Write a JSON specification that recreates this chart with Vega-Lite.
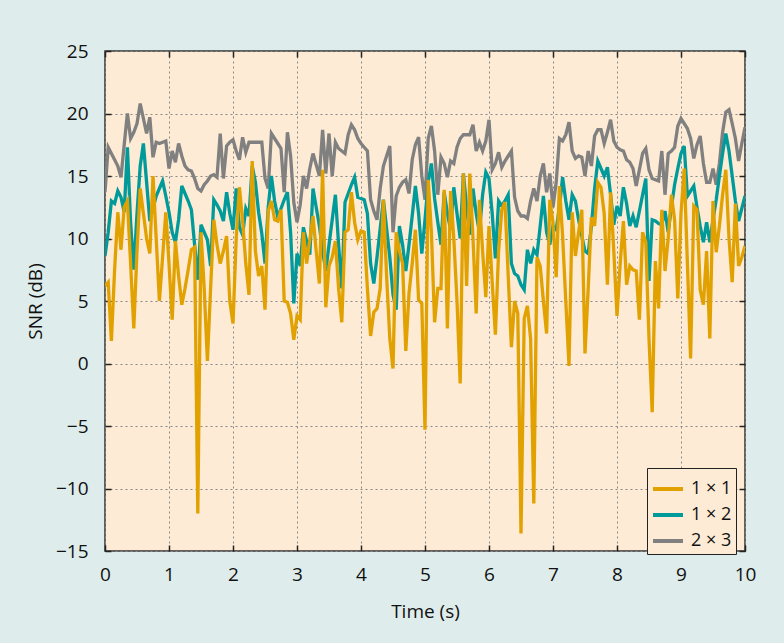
{
"$schema": "https://vega.github.io/schema/vega-lite/v6.json",
"width": 640, "height": 500,
"autosize": "none",
"padding": {"left": 105, "top": 51, "right": 39, "bottom": 92},
"background": "#deedeb",
"config": {
  "font": "Open Sans",
  "view": {"fill": "#fdebd5", "stroke": "#333333", "strokeWidth": 1.5},
  "axis": {"labelFontSize": 19, "labelColor": "#111111", "labelFlush": false, "labelOverlap": false, "titleFontSize": 19, "titleFontWeight": "normal", "titleColor": "#111111", "tickColor": "#222222", "tickWidth": 1.5, "tickSize": -6, "domain": false, "gridColor": "#888888", "gridDash": [2, 3], "gridWidth": 1, "gridOpacity": 1}
},
"data": {"values": [
{"t":0.00,"1 × 1":6.2,"1 × 2":8.6,"2 × 3":13.7},
{"t":0.05,"1 × 1":6.5,"1 × 2":10.5,"2 × 3":17.3},
{"t":0.10,"1 × 1":1.8,"1 × 2":13.0,"2 × 3":16.8},
{"t":0.15,"1 × 1":7.5,"1 × 2":12.8,"2 × 3":16.3},
{"t":0.20,"1 × 1":12.1,"1 × 2":13.8,"2 × 3":15.8},
{"t":0.25,"1 × 1":9.1,"1 × 2":13.3,"2 × 3":14.9},
{"t":0.30,"1 × 1":12.5,"1 × 2":12.1,"2 × 3":17.5},
{"t":0.35,"1 × 1":13.0,"1 × 2":17.3,"2 × 3":20.0},
{"t":0.40,"1 × 1":8.0,"1 × 2":11.3,"2 × 3":18.0},
{"t":0.45,"1 × 1":2.8,"1 × 2":7.5,"2 × 3":18.5},
{"t":0.50,"1 × 1":9.0,"1 × 2":12.0,"2 × 3":19.2},
{"t":0.55,"1 × 1":14.0,"1 × 2":15.8,"2 × 3":20.8},
{"t":0.60,"1 × 1":12.0,"1 × 2":17.6,"2 × 3":19.6},
{"t":0.65,"1 × 1":10.0,"1 × 2":14.5,"2 × 3":18.4},
{"t":0.70,"1 × 1":8.8,"1 × 2":11.4,"2 × 3":19.7},
{"t":0.75,"1 × 1":15.0,"1 × 2":12.4,"2 × 3":16.5},
{"t":0.80,"1 × 1":10.0,"1 × 2":13.4,"2 × 3":17.7},
{"t":0.85,"1 × 1":5.0,"1 × 2":14.0,"2 × 3":17.6},
{"t":0.90,"1 × 1":8.5,"1 × 2":14.6,"2 × 3":17.7},
{"t":0.95,"1 × 1":12.1,"1 × 2":13.4,"2 × 3":17.8},
{"t":1.00,"1 × 1":8.0,"1 × 2":12.1,"2 × 3":15.6},
{"t":1.05,"1 × 1":3.5,"1 × 2":10.5,"2 × 3":17.0},
{"t":1.10,"1 × 1":9.8,"1 × 2":9.7,"2 × 3":16.1},
{"t":1.15,"1 × 1":7.0,"1 × 2":11.5,"2 × 3":17.6},
{"t":1.20,"1 × 1":4.7,"1 × 2":14.2,"2 × 3":16.6},
{"t":1.25,"1 × 1":6.0,"1 × 2":13.6,"2 × 3":15.8},
{"t":1.30,"1 × 1":7.5,"1 × 2":13.0,"2 × 3":15.5},
{"t":1.35,"1 × 1":9.1,"1 × 2":12.3,"2 × 3":15.4},
{"t":1.40,"1 × 1":9.3,"1 × 2":9.5,"2 × 3":14.8},
{"t":1.45,"1 × 1":-12.0,"1 × 2":6.7,"2 × 3":14.0},
{"t":1.50,"1 × 1":10.5,"1 × 2":11.1,"2 × 3":13.8},
{"t":1.55,"1 × 1":6.0,"1 × 2":10.5,"2 × 3":14.3},
{"t":1.60,"1 × 1":0.2,"1 × 2":9.9,"2 × 3":14.6},
{"t":1.65,"1 × 1":6.0,"1 × 2":7.8,"2 × 3":15.0},
{"t":1.70,"1 × 1":11.5,"1 × 2":13.1,"2 × 3":15.1},
{"t":1.75,"1 × 1":9.5,"1 × 2":12.7,"2 × 3":14.9},
{"t":1.80,"1 × 1":8.0,"1 × 2":12.2,"2 × 3":18.4},
{"t":1.85,"1 × 1":9.0,"1 × 2":11.4,"2 × 3":14.8},
{"t":1.90,"1 × 1":10.2,"1 × 2":13.7,"2 × 3":17.4},
{"t":1.95,"1 × 1":5.0,"1 × 2":12.0,"2 × 3":17.7},
{"t":2.00,"1 × 1":3.2,"1 × 2":10.7,"2 × 3":17.9},
{"t":2.05,"1 × 1":10.0,"1 × 2":14.0,"2 × 3":17.0},
{"t":2.10,"1 × 1":14.1,"1 × 2":10.9,"2 × 3":16.3},
{"t":2.15,"1 × 1":11.4,"1 × 2":10.3,"2 × 3":18.1},
{"t":2.20,"1 × 1":8.0,"1 × 2":12.4,"2 × 3":16.9},
{"t":2.25,"1 × 1":5.5,"1 × 2":11.8,"2 × 3":17.7},
{"t":2.30,"1 × 1":16.2,"1 × 2":15.8,"2 × 3":17.7},
{"t":2.35,"1 × 1":9.0,"1 × 2":14.5,"2 × 3":17.7},
{"t":2.40,"1 × 1":7.0,"1 × 2":12.1,"2 × 3":17.7},
{"t":2.45,"1 × 1":7.8,"1 × 2":10.4,"2 × 3":17.7},
{"t":2.50,"1 × 1":4.3,"1 × 2":8.0,"2 × 3":14.8},
{"t":2.55,"1 × 1":12.2,"1 × 2":12.5,"2 × 3":14.0},
{"t":2.60,"1 × 1":13.0,"1 × 2":15.0,"2 × 3":18.4},
{"t":2.65,"1 × 1":11.5,"1 × 2":13.0,"2 × 3":18.0},
{"t":2.70,"1 × 1":11.4,"1 × 2":11.7,"2 × 3":17.6},
{"t":2.75,"1 × 1":12.3,"1 × 2":12.4,"2 × 3":17.2},
{"t":2.80,"1 × 1":5.0,"1 × 2":13.1,"2 × 3":13.7},
{"t":2.85,"1 × 1":4.9,"1 × 2":13.7,"2 × 3":18.5},
{"t":2.90,"1 × 1":4.0,"1 × 2":10.5,"2 × 3":16.6},
{"t":2.95,"1 × 1":1.9,"1 × 2":4.8,"2 × 3":12.9},
{"t":3.00,"1 × 1":3.8,"1 × 2":8.8,"2 × 3":11.3},
{"t":3.05,"1 × 1":3.5,"1 × 2":7.8,"2 × 3":12.7},
{"t":3.10,"1 × 1":10.5,"1 × 2":10.9,"2 × 3":15.0},
{"t":3.15,"1 × 1":8.0,"1 × 2":9.8,"2 × 3":14.0},
{"t":3.20,"1 × 1":9.9,"1 × 2":8.7,"2 × 3":15.6},
{"t":3.25,"1 × 1":11.8,"1 × 2":14.0,"2 × 3":16.8},
{"t":3.30,"1 × 1":9.0,"1 × 2":12.5,"2 × 3":15.9},
{"t":3.35,"1 × 1":6.4,"1 × 2":11.0,"2 × 3":15.0},
{"t":3.40,"1 × 1":15.5,"1 × 2":9.0,"2 × 3":18.7},
{"t":3.45,"1 × 1":4.5,"1 × 2":7.4,"2 × 3":15.2},
{"t":3.50,"1 × 1":7.8,"1 × 2":9.5,"2 × 3":18.4},
{"t":3.55,"1 × 1":8.5,"1 × 2":11.5,"2 × 3":15.0},
{"t":3.60,"1 × 1":9.8,"1 × 2":13.5,"2 × 3":17.7},
{"t":3.65,"1 × 1":6.0,"1 × 2":9.5,"2 × 3":17.2},
{"t":3.70,"1 × 1":3.3,"1 × 2":6.0,"2 × 3":17.0},
{"t":3.75,"1 × 1":10.5,"1 × 2":12.9,"2 × 3":16.8},
{"t":3.80,"1 × 1":10.7,"1 × 2":13.6,"2 × 3":18.3},
{"t":3.85,"1 × 1":13.7,"1 × 2":14.3,"2 × 3":19.1},
{"t":3.90,"1 × 1":11.3,"1 × 2":14.9,"2 × 3":18.7},
{"t":3.95,"1 × 1":9.9,"1 × 2":13.3,"2 × 3":18.0},
{"t":4.00,"1 × 1":10.6,"1 × 2":13.2,"2 × 3":17.6},
{"t":4.05,"1 × 1":10.5,"1 × 2":13.1,"2 × 3":17.3},
{"t":4.10,"1 × 1":6.0,"1 × 2":12.0,"2 × 3":17.0},
{"t":4.15,"1 × 1":2.2,"1 × 2":8.0,"2 × 3":13.1},
{"t":4.20,"1 × 1":4.1,"1 × 2":6.4,"2 × 3":12.2},
{"t":4.25,"1 × 1":4.4,"1 × 2":8.5,"2 × 3":11.5},
{"t":4.30,"1 × 1":6.0,"1 × 2":10.8,"2 × 3":14.0},
{"t":4.35,"1 × 1":13.1,"1 × 2":13.1,"2 × 3":15.8},
{"t":4.40,"1 × 1":7.0,"1 × 2":10.8,"2 × 3":16.6},
{"t":4.45,"1 × 1":2.0,"1 × 2":8.5,"2 × 3":17.4},
{"t":4.50,"1 × 1":-0.4,"1 × 2":5.5,"2 × 3":10.5},
{"t":4.55,"1 × 1":10.5,"1 × 2":4.3,"2 × 3":13.4},
{"t":4.60,"1 × 1":9.0,"1 × 2":11.0,"2 × 3":14.1},
{"t":4.65,"1 × 1":8.0,"1 × 2":9.5,"2 × 3":14.5},
{"t":4.70,"1 × 1":1.0,"1 × 2":7.4,"2 × 3":14.7},
{"t":4.75,"1 × 1":5.6,"1 × 2":9.5,"2 × 3":13.6},
{"t":4.80,"1 × 1":8.0,"1 × 2":11.8,"2 × 3":16.3},
{"t":4.85,"1 × 1":10.7,"1 × 2":14.2,"2 × 3":17.5},
{"t":4.90,"1 × 1":5.1,"1 × 2":12.0,"2 × 3":18.1},
{"t":4.95,"1 × 1":4.8,"1 × 2":8.8,"2 × 3":15.0},
{"t":5.00,"1 × 1":-5.3,"1 × 2":11.5,"2 × 3":13.1},
{"t":5.05,"1 × 1":14.7,"1 × 2":14.5,"2 × 3":18.0},
{"t":5.10,"1 × 1":10.5,"1 × 2":16.0,"2 × 3":19.0},
{"t":5.15,"1 × 1":3.3,"1 × 2":13.2,"2 × 3":17.0},
{"t":5.20,"1 × 1":6.0,"1 × 2":11.3,"2 × 3":13.5},
{"t":5.25,"1 × 1":6.0,"1 × 2":9.5,"2 × 3":16.5},
{"t":5.30,"1 × 1":13.9,"1 × 2":13.7,"2 × 3":16.0},
{"t":5.35,"1 × 1":2.8,"1 × 2":12.0,"2 × 3":14.9},
{"t":5.40,"1 × 1":13.8,"1 × 2":10.7,"2 × 3":16.2},
{"t":5.45,"1 × 1":10.0,"1 × 2":14.1,"2 × 3":16.0},
{"t":5.50,"1 × 1":5.0,"1 × 2":12.0,"2 × 3":17.3},
{"t":5.55,"1 × 1":-1.6,"1 × 2":10.0,"2 × 3":18.0},
{"t":5.60,"1 × 1":15.2,"1 × 2":15.2,"2 × 3":18.3},
{"t":5.65,"1 × 1":6.2,"1 × 2":12.5,"2 × 3":18.3},
{"t":5.70,"1 × 1":15.2,"1 × 2":10.3,"2 × 3":18.3},
{"t":5.75,"1 × 1":10.0,"1 × 2":14.0,"2 × 3":19.1},
{"t":5.80,"1 × 1":4.0,"1 × 2":12.0,"2 × 3":17.0},
{"t":5.85,"1 × 1":13.1,"1 × 2":10.5,"2 × 3":17.7},
{"t":5.90,"1 × 1":9.0,"1 × 2":13.5,"2 × 3":17.0},
{"t":5.95,"1 × 1":5.3,"1 × 2":15.3,"2 × 3":17.8},
{"t":6.00,"1 × 1":11.0,"1 × 2":14.8,"2 × 3":19.5},
{"t":6.05,"1 × 1":6.5,"1 × 2":12.0,"2 × 3":15.5},
{"t":6.10,"1 × 1":2.3,"1 × 2":8.4,"2 × 3":16.0},
{"t":6.15,"1 × 1":9.0,"1 × 2":13.0,"2 × 3":16.9},
{"t":6.20,"1 × 1":12.3,"1 × 2":12.6,"2 × 3":15.7},
{"t":6.25,"1 × 1":12.9,"1 × 2":13.0,"2 × 3":16.2},
{"t":6.30,"1 × 1":7.0,"1 × 2":13.5,"2 × 3":16.6},
{"t":6.35,"1 × 1":1.3,"1 × 2":8.0,"2 × 3":17.0},
{"t":6.40,"1 × 1":5.0,"1 × 2":7.2,"2 × 3":13.3},
{"t":6.45,"1 × 1":4.0,"1 × 2":7.0,"2 × 3":12.2},
{"t":6.50,"1 × 1":-13.6,"1 × 2":6.3,"2 × 3":11.8},
{"t":6.55,"1 × 1":3.6,"1 × 2":5.9,"2 × 3":11.8},
{"t":6.60,"1 × 1":4.6,"1 × 2":9.1,"2 × 3":11.6},
{"t":6.65,"1 × 1":2.0,"1 × 2":8.0,"2 × 3":13.0},
{"t":6.70,"1 × 1":-11.2,"1 × 2":9.1,"2 × 3":14.0},
{"t":6.75,"1 × 1":8.5,"1 × 2":8.7,"2 × 3":13.0},
{"t":6.80,"1 × 1":7.8,"1 × 2":11.0,"2 × 3":15.0},
{"t":6.85,"1 × 1":5.0,"1 × 2":13.4,"2 × 3":16.0},
{"t":6.90,"1 × 1":2.4,"1 × 2":10.5,"2 × 3":13.7},
{"t":6.95,"1 × 1":13.1,"1 × 2":9.5,"2 × 3":15.2},
{"t":7.00,"1 × 1":11.3,"1 × 2":11.0,"2 × 3":12.5},
{"t":7.05,"1 × 1":6.9,"1 × 2":10.7,"2 × 3":14.5},
{"t":7.10,"1 × 1":14.2,"1 × 2":12.5,"2 × 3":18.0},
{"t":7.15,"1 × 1":10.2,"1 × 2":14.9,"2 × 3":17.8},
{"t":7.20,"1 × 1":5.0,"1 × 2":13.0,"2 × 3":18.3},
{"t":7.25,"1 × 1":-0.2,"1 × 2":11.5,"2 × 3":19.3},
{"t":7.30,"1 × 1":12.1,"1 × 2":13.5,"2 × 3":17.0},
{"t":7.35,"1 × 1":8.6,"1 × 2":13.0,"2 × 3":16.4},
{"t":7.40,"1 × 1":10.5,"1 × 2":11.5,"2 × 3":16.6},
{"t":7.45,"1 × 1":12.3,"1 × 2":10.2,"2 × 3":16.5},
{"t":7.50,"1 × 1":0.8,"1 × 2":9.0,"2 × 3":15.0},
{"t":7.55,"1 × 1":6.0,"1 × 2":8.8,"2 × 3":17.0},
{"t":7.60,"1 × 1":11.7,"1 × 2":11.0,"2 × 3":15.8},
{"t":7.65,"1 × 1":11.0,"1 × 2":14.0,"2 × 3":18.2},
{"t":7.70,"1 × 1":14.5,"1 × 2":16.2,"2 × 3":18.7},
{"t":7.75,"1 × 1":14.1,"1 × 2":15.6,"2 × 3":18.7},
{"t":7.80,"1 × 1":12.0,"1 × 2":15.0,"2 × 3":17.6},
{"t":7.85,"1 × 1":6.3,"1 × 2":15.7,"2 × 3":18.5},
{"t":7.90,"1 × 1":13.7,"1 × 2":13.5,"2 × 3":19.5},
{"t":7.95,"1 × 1":9.0,"1 × 2":11.1,"2 × 3":17.8},
{"t":8.00,"1 × 1":3.8,"1 × 2":12.6,"2 × 3":17.3},
{"t":8.05,"1 × 1":8.0,"1 × 2":11.8,"2 × 3":17.1},
{"t":8.10,"1 × 1":11.4,"1 × 2":14.1,"2 × 3":17.0},
{"t":8.15,"1 × 1":6.3,"1 × 2":12.8,"2 × 3":16.3},
{"t":8.20,"1 × 1":7.8,"1 × 2":11.0,"2 × 3":16.1},
{"t":8.25,"1 × 1":7.5,"1 × 2":11.8,"2 × 3":15.6},
{"t":8.30,"1 × 1":7.4,"1 × 2":10.9,"2 × 3":14.2},
{"t":8.35,"1 × 1":3.5,"1 × 2":12.2,"2 × 3":15.5},
{"t":8.40,"1 × 1":10.5,"1 × 2":13.5,"2 × 3":16.8},
{"t":8.45,"1 × 1":9.7,"1 × 2":14.8,"2 × 3":17.2},
{"t":8.50,"1 × 1":2.0,"1 × 2":6.6,"2 × 3":15.5},
{"t":8.55,"1 × 1":-3.9,"1 × 2":11.5,"2 × 3":14.8},
{"t":8.60,"1 × 1":8.2,"1 × 2":11.4,"2 × 3":14.7},
{"t":8.65,"1 × 1":4.4,"1 × 2":11.2,"2 × 3":14.6},
{"t":8.70,"1 × 1":12.3,"1 × 2":11.1,"2 × 3":17.0},
{"t":8.75,"1 × 1":7.4,"1 × 2":12.2,"2 × 3":13.5},
{"t":8.80,"1 × 1":10.0,"1 × 2":10.5,"2 × 3":16.8},
{"t":8.85,"1 × 1":13.5,"1 × 2":12.5,"2 × 3":17.0},
{"t":8.90,"1 × 1":11.5,"1 × 2":14.3,"2 × 3":17.3},
{"t":8.95,"1 × 1":5.2,"1 × 2":15.6,"2 × 3":19.0},
{"t":9.00,"1 × 1":12.0,"1 × 2":16.8,"2 × 3":19.6},
{"t":9.05,"1 × 1":15.6,"1 × 2":17.4,"2 × 3":19.2},
{"t":9.10,"1 × 1":8.0,"1 × 2":13.4,"2 × 3":18.8},
{"t":9.15,"1 × 1":0.4,"1 × 2":13.8,"2 × 3":18.0},
{"t":9.20,"1 × 1":12.6,"1 × 2":14.2,"2 × 3":16.4},
{"t":9.25,"1 × 1":12.3,"1 × 2":12.5,"2 × 3":17.5},
{"t":9.30,"1 × 1":5.9,"1 × 2":11.0,"2 × 3":18.2},
{"t":9.35,"1 × 1":4.7,"1 × 2":9.7,"2 × 3":16.0},
{"t":9.40,"1 × 1":9.0,"1 × 2":11.3,"2 × 3":14.5},
{"t":9.45,"1 × 1":2.0,"1 × 2":9.7,"2 × 3":14.5},
{"t":9.50,"1 × 1":13.0,"1 × 2":11.5,"2 × 3":15.6},
{"t":9.55,"1 × 1":8.9,"1 × 2":13.1,"2 × 3":14.3},
{"t":9.60,"1 × 1":11.0,"1 × 2":15.0,"2 × 3":16.0},
{"t":9.65,"1 × 1":13.5,"1 × 2":16.8,"2 × 3":18.5},
{"t":9.70,"1 × 1":15.5,"1 × 2":18.4,"2 × 3":20.1},
{"t":9.75,"1 × 1":10.0,"1 × 2":17.0,"2 × 3":20.3},
{"t":9.80,"1 × 1":6.5,"1 × 2":15.0,"2 × 3":19.2},
{"t":9.85,"1 × 1":12.8,"1 × 2":13.0,"2 × 3":18.0},
{"t":9.90,"1 × 1":7.8,"1 × 2":11.4,"2 × 3":16.2},
{"t":9.95,"1 × 1":8.5,"1 × 2":12.4,"2 × 3":17.6},
{"t":10.00,"1 × 1":9.4,"1 × 2":13.4,"2 × 3":18.9}
]},
"transform": [{"fold": ["2 × 3", "1 × 2", "1 × 1"], "as": ["cfg", "snr"]}],
"layer": [
  {
    "mark": {"type": "line", "strokeWidth": 3.3, "clip": true},
    "encoding": {
      "x": {"field": "t", "type": "quantitative", "scale": {"domain": [0, 10], "nice": false},
            "axis": {"orient": "bottom", "values": [0,1,2,3,4,5,6,7,8,9,10], "title": "Time (s)", "labelPadding": 20, "titlePadding": 18, "grid": true}},
      "y": {"field": "snr", "type": "quantitative", "scale": {"domain": [-15, 25], "nice": false},
            "axis": {"orient": "left", "values": [-15,-10,-5,0,5,10,15,20,25], "title": "SNR (dB)", "labelPadding": 23, "titlePadding": 10, "grid": true}},
      "color": {"field": "cfg", "type": "nominal",
        "scale": {"domain": ["1 × 1", "1 × 2", "2 × 3"], "range": ["#e1a100", "#009a9a", "#808080"]},
        "legend": {"title": null, "orient": "none", "legendX": 542, "legendY": 417, "symbolType": "stroke", "symbolStrokeWidth": 4, "symbolSize": 900, "labelFontSize": 18, "labelColor": "#111111", "padding": 4, "strokeColor": "#222222", "fillColor": "#fdebd5", "rowPadding": -11, "labelOffset": 6, "cornerRadius": 0}}
    }
  },
  {
    "mark": {"type": "line", "opacity": 0},
    "encoding": {
      "x": {"field": "t", "type": "quantitative", "axis": {"orient": "top", "values": [0,1,2,3,4,5,6,7,8,9,10], "labels": false, "title": null, "grid": false}},
      "y": {"field": "snr", "type": "quantitative", "axis": {"orient": "right", "values": [-15,-10,-5,0,5,10,15,20,25], "labels": false, "title": null, "grid": false}}
    }
  }
],
"resolve": {"axis": {"x": "independent", "y": "independent"}}
}
